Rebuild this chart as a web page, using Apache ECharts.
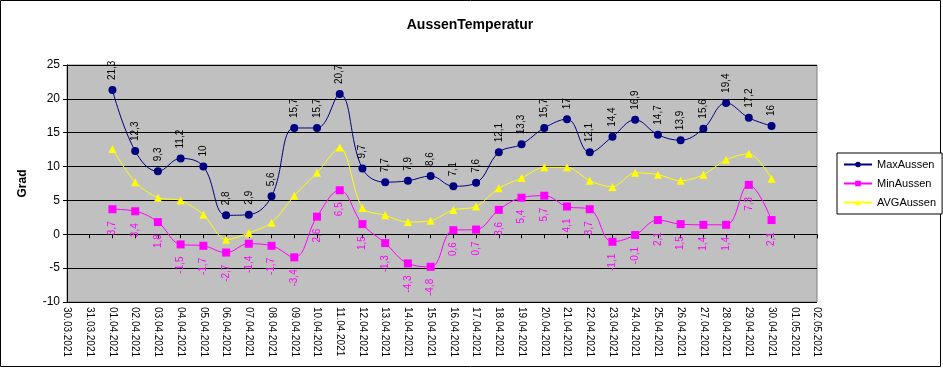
<!DOCTYPE html>
<html>
<head>
<meta charset="utf-8">
<script src="https://cdn.jsdelivr.net/npm/echarts@6/dist/echarts.min.js"></script>
<style>
html,body{margin:0;padding:0;background:#fff;}
#c{width:943px;height:368px;}
</style>
</head>
<body>
<div id="c"></div>
<script>
var categories = ['30.03.2021','31.03.2021','01.04.2021','02.04.2021','03.04.2021','04.04.2021','05.04.2021','06.04.2021','07.04.2021','08.04.2021','09.04.2021','10.04.2021','11.04.2021','12.04.2021','13.04.2021','14.04.2021','15.04.2021','16.04.2021','17.04.2021','18.04.2021','19.04.2021','20.04.2021','21.04.2021','22.04.2021','23.04.2021','24.04.2021','25.04.2021','26.04.2021','27.04.2021','28.04.2021','29.04.2021','30.04.2021','01.05.2021','02.05.2021'];
var maxAussen = [null,null,21.3,12.3,9.3,11.2,10,2.8,2.9,5.6,15.7,15.7,20.7,9.7,7.7,7.9,8.6,7.1,7.6,12.1,13.3,15.7,17,12.1,14.4,16.9,14.7,13.9,15.6,19.4,17.2,16,null,null];
var minAussen = [null,null,3.7,3.4,1.8,-1.5,-1.7,-2.7,-1.4,-1.7,-3.4,2.6,6.5,1.5,-1.3,-4.3,-4.8,0.6,0.7,3.6,5.4,5.7,4.1,3.7,-1.1,-0.1,2.1,1.5,1.4,1.4,7.3,2.1,null,null];
var avgAussen = [null,null,12.6,7.7,5.4,5.0,2.9,-0.8,0.2,1.7,5.7,9.1,12.8,3.9,2.8,1.8,2.0,3.6,4.1,6.8,8.3,9.9,9.9,7.9,7.0,9.1,8.8,7.9,8.8,11.0,11.9,8.2,null,null];
var yTicks = [-10,-5,0,5,10,15,20,25];

var chart = echarts.init(document.getElementById('c'));
var fmt = function(p){ return String(p.value).replace('.', ','); };
var font = 'Liberation Sans, Arial, sans-serif';
chart.setOption({
  animation:false,
  backgroundColor:'#fff',
  textStyle:{fontFamily:font},
  title:{text:'AussenTemperatur', left:465, top:13, textAlign:'center',
    textStyle:{fontSize:14, fontWeight:'bold', color:'#000', fontFamily:font}},
  graphic:[{type:'rect', shape:{x:0.5,y:0.5,width:940,height:366}, style:{fill:'none', stroke:'#000', lineWidth:1}, silent:true}],
  legend:{
    orient:'vertical', left:837, top:153, width:100,
    padding:[6,6,6,6], itemGap:8, itemWidth:28, itemHeight:7,
    backgroundColor:'#fff', borderColor:'#000', borderWidth:1, borderRadius:0,
    textStyle:{fontSize:11, color:'#000', fontFamily:font},
    data:['MaxAussen','MinAussen','AVGAussen']
  },
  grid:{left:67, right:126, top:65, bottom:66, show:true, backgroundColor:'#c0c0c0', borderColor:'#808080', borderWidth:1},
  xAxis:[{
    type:'category', data:categories, boundaryGap:false,
    axisLine:{onZero:true, lineStyle:{color:'#000', width:1}},
    axisTick:{show:true, length:4, interval:0, lineStyle:{color:'#000'}},
    axisLabel:{show:false}, splitLine:{show:false}
  },{
    type:'category', data:categories, boundaryGap:false, position:'bottom',
    axisLine:{show:false, onZero:false}, axisTick:{show:false},
    axisLabel:{show:true, interval:0, rotate:-90, fontSize:10, color:'#000', margin:5, fontFamily:font},
    splitLine:{show:false}
  }],
  yAxis:{
    type:'value', min:-10, max:25, interval:5,
    name:'Grad', nameLocation:'middle', nameGap:38, nameRotate:90,
    nameTextStyle:{fontSize:12, fontWeight:'bold', color:'#000', fontFamily:font},
    axisLine:{show:true, lineStyle:{color:'#000'}},
    axisTick:{show:true, length:4, lineStyle:{color:'#000'}},
    axisLabel:{fontSize:12, color:'#000', margin:7, fontFamily:font},
    splitLine:{show:true, lineStyle:{color:'#000', width:1}}
  },
  series:[{
    name:'MaxAussen', type:'line', data:maxAussen, smooth:0.4, connectNulls:false,
    symbol:'circle', symbolSize:8,
    itemStyle:{color:'#000080'}, lineStyle:{color:'#000080', width:1},
    label:{show:true, position:'top', distance:6, rotate:90, align:'left', verticalAlign:'middle',
      fontSize:10, color:'#000', formatter:fmt, fontFamily:font}
  },{
    name:'MinAussen', type:'line', data:minAussen, smooth:0.4,
    symbol:'rect', symbolSize:8,
    itemStyle:{color:'#ff00ff'}, lineStyle:{color:'#ff00ff', width:1},
    label:{show:true, position:'bottom', distance:8, rotate:90, align:'right', verticalAlign:'middle',
      fontSize:10, color:'#ff00ff', formatter:fmt, fontFamily:font}
  },{
    name:'AVGAussen', type:'line', data:avgAussen, smooth:0.3,
    symbol:'triangle', symbolSize:8,
    itemStyle:{color:'#ffff00'}, lineStyle:{color:'#ffff00', width:1}
  }]
});
</script>
</body>
</html>
